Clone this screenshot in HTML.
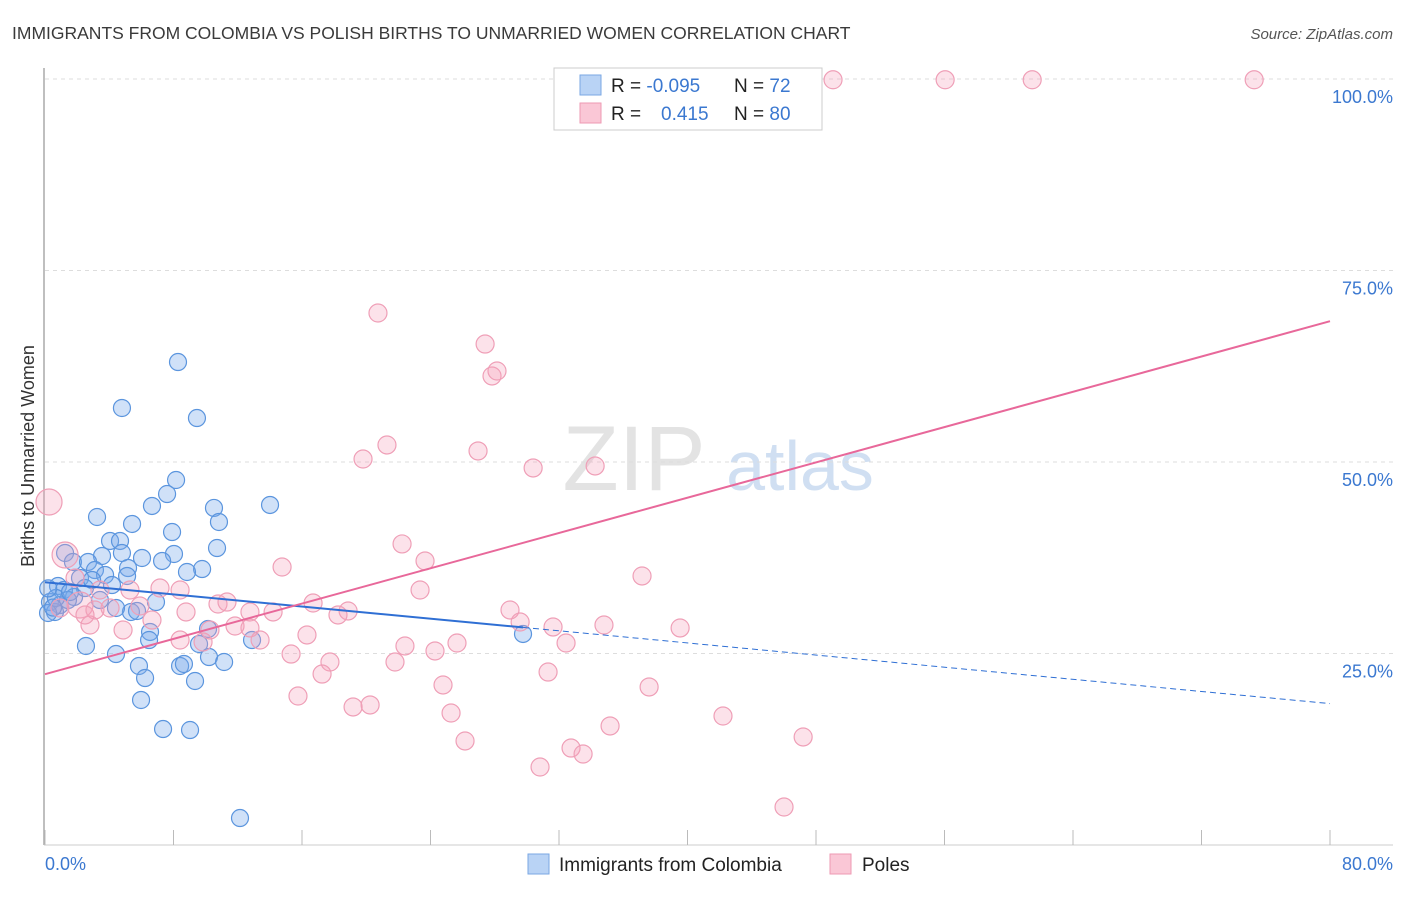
<!DOCTYPE html>
<html><head><meta charset="utf-8"><style>
body{margin:0;background:#fff;font-family:"Liberation Sans",sans-serif}
svg text{font-family:"Liberation Sans",sans-serif}
</style></head><body>
<svg id="chart" width="1406" height="892" xmlns="http://www.w3.org/2000/svg">
<text x="12" y="39" font-size="17.5" fill="#3a3a3a">IMMIGRANTS FROM COLOMBIA VS POLISH BIRTHS TO UNMARRIED WOMEN CORRELATION CHART</text>
<text x="1393" y="39" font-size="15" fill="#555" font-style="italic" text-anchor="end">Source: ZipAtlas.com</text>
<g>
<text x="634" y="490" font-size="92" fill="#ddd" font-family="Liberation Serif" text-anchor="middle" opacity="0.8">ZIP</text>
<text x="800" y="490" font-size="70" fill="#c5d8ef" text-anchor="middle" opacity="0.8">atlas</text>
</g>
<g id="grid"></g><g id="axes"></g><g id="pts"></g><g id="trends"></g>
<text transform="translate(34,456) rotate(-90)" font-size="18" fill="#333" text-anchor="middle">Births to Unmarried Women</text>
<text x="45" y="870" font-size="18" fill="#3b78d0">0.0%</text>
<text x="1393" y="870" font-size="18" fill="#3b78d0" text-anchor="end">80.0%</text>
<g>
<rect x="554" y="68" width="268" height="62" fill="#fff" stroke="#ccc"/>
<rect x="580" y="75" width="21" height="20" fill="#b9d3f5" stroke="#7aa7e3"/>
<rect x="580" y="103" width="21" height="20" fill="#fac7d6" stroke="#ee9ab3"/>
<text x="611" y="92" font-size="19" fill="#222">R = <tspan fill="#3b78d0">-0.095</tspan></text>
<text x="734" y="92" font-size="19" fill="#222">N = <tspan fill="#3b78d0">72</tspan></text>
<text x="611" y="120" font-size="19" fill="#222">R = <tspan fill="#3b78d0" x="661">0.415</tspan></text>
<text x="734" y="120" font-size="19" fill="#222">N = <tspan fill="#3b78d0">80</tspan></text>
</g>
<g>
<rect x="528" y="854" width="21" height="20" fill="#b9d3f5" stroke="#7aa7e3"/>
<text x="559" y="871" font-size="19" fill="#222">Immigrants from Colombia</text>
<rect x="830" y="854" width="21" height="20" fill="#fac7d6" stroke="#ee9ab3"/>
<text x="862" y="871" font-size="19" fill="#222">Poles</text>
</g>
</svg>
<script>
const yTicks=[25,50,75,100];
const yTickLabels=["25.0%","50.0%","75.0%","100.0%"];
const xTicks=[0,8,16,24,32,40,48,56,64,72,80];
const blueX=[8.28,4.79,9.46,8.16,7.60,6.66,10.52,14.01,3.24,5.42,10.83,7.91,4.05,4.67,1.25,3.55,10.71,8.03,4.79,6.04,7.29,1.74,2.68,9.78,8.84,5.17,3.11,0.81,2.18,3.74,4.17,5.11,1.18,1.81,0.31,0.93,0.62,0.19,1.43,2.49,5.35,6.91,5.73,6.54,6.48,2.55,4.42,10.15,9.59,10.21,11.15,12.89,5.85,6.23,8.41,8.65,9.34,5.98,7.35,9.03,12.14,29.76,3.42,2.93,4.42,0.68,1.56,0.2,0.5];
const blueY=[63.05,57.05,55.74,47.65,45.82,44.26,44.0,44.39,42.82,41.91,42.17,40.86,39.69,39.69,38.12,37.73,38.77,37.99,38.12,37.47,37.08,36.95,36.95,36.03,35.64,36.16,35.9,33.81,34.86,35.25,33.94,35.12,33.29,32.38,31.72,31.33,30.42,30.29,31.98,33.55,30.42,31.72,30.55,27.81,26.76,25.98,24.93,28.2,26.24,24.54,23.89,26.76,23.37,21.8,23.37,23.63,21.41,18.93,15.14,15.01,3.52,27.55,31.98,34.6,30.94,32.25,33.03,33.5,31.0];
const pinkX=[36.11,49.06,56.04,61.46,75.28,20.73,27.40,27.83,28.14,21.29,26.96,19.80,30.39,34.25,0.25,22.23,14.76,23.66,37.17,23.35,1.25,1.87,3.42,5.29,7.16,8.41,2.18,4.05,5.91,8.78,10.77,11.33,12.76,14.20,16.69,18.87,18.24,28.95,29.58,31.63,34.80,39.54,2.80,4.86,6.66,8.41,10.27,11.83,13.39,16.31,9.84,15.32,17.74,17.25,22.41,24.28,25.65,32.44,21.79,15.75,19.18,20.24,24.78,31.32,37.61,25.28,26.15,30.82,32.75,33.50,35.18,42.21,47.20,46.01,3.11,12.76,2.49,0.93];
const pinkY=[99.9,99.9,99.9,99.9,99.9,69.45,65.40,61.23,61.88,52.22,51.44,50.39,49.22,49.48,44.78,39.30,36.29,37.08,35.12,33.29,37.86,34.86,33.29,33.29,33.55,33.29,31.33,30.94,31.2,30.42,31.46,31.72,30.42,30.42,31.59,30.55,30.03,30.68,29.11,28.46,28.72,28.33,28.72,28.07,29.37,26.76,28.07,28.59,26.76,27.42,26.5,24.93,23.89,22.32,25.98,25.33,26.37,26.37,23.89,19.45,18.02,18.28,20.89,22.58,20.63,17.23,13.58,10.18,12.66,11.88,15.54,16.84,14.1,4.96,30.68,28.33,30.03,30.94];
const pinkBig=[14,20,26];
const blueTrend=[34.3,-0.198];   // intercept, slope
const blueSolidEnd=29.76;
const pinkTrend=[22.3,0.576];
const NS="http://www.w3.org/2000/svg";
const sx=v=>45+v*1285/80, sy=v=>845-v*7.66;
function mk(t,a,p){const e=document.createElementNS(NS,t);for(const k in a)e.setAttribute(k,a[k]);document.getElementById(p).appendChild(e);return e;}
yTicks.forEach((t,i)=>{
 const l=mk('line',{x1:45,x2:1393,y1:sy(t),y2:sy(t),stroke:'#ddd','stroke-dasharray':'4,4'},'grid');
 
 
 const tx=mk('text',{x:1393,y:sy(t)+24,'font-size':18,fill:'#3b78d0','text-anchor':'end'},'grid');
 tx.textContent=yTickLabels[i];
 
 
});
const ax=mk('line',{x1:44,x2:44,y1:68,y2:845,stroke:'#aaa','stroke-width':1.5},'axes');


const bx=mk('line',{x1:44,x2:1393,y1:845,y2:845,stroke:'#ccc'},'axes');


xTicks.forEach(t=>{const l=mk('line',{x1:sx(t),x2:sx(t),y1:830,y2:845,stroke:'#bbb'},'axes');
 
 });
blueX.forEach((x,i)=>{const c=mk('circle',{cx:sx(x),cy:sy(blueY[i]),r:8.5,fill:'rgba(120,170,235,0.35)',stroke:'#5b95de','stroke-width':1.2},'pts');
 
 });
pinkX.forEach((x,i)=>{const c=mk('circle',{cx:sx(x),cy:sy(pinkY[i]),r:pinkBig.includes(i)?13:9,fill:'rgba(245,160,185,0.3)',stroke:'#ef9fb7','stroke-width':1.2},'pts');
 
 });
const bl=mk('line',{x1:sx(0),y1:sy(blueTrend[0]),x2:sx(blueSolidEnd),y2:sy(blueTrend[0]+blueTrend[1]*blueSolidEnd),stroke:'#2f6fd4','stroke-width':2},'trends');


const bd=mk('line',{x1:sx(blueSolidEnd),y1:sy(blueTrend[0]+blueTrend[1]*blueSolidEnd),x2:sx(80),y2:sy(blueTrend[0]+blueTrend[1]*80),stroke:'#2f6fd4','stroke-width':1,'stroke-dasharray':'6,4'},'trends');


const pl=mk('line',{x1:sx(0),y1:sy(pinkTrend[0]),x2:sx(80),y2:sy(pinkTrend[0]+pinkTrend[1]*80),stroke:'#e8689a','stroke-width':2},'trends');


</script>
</body></html>
